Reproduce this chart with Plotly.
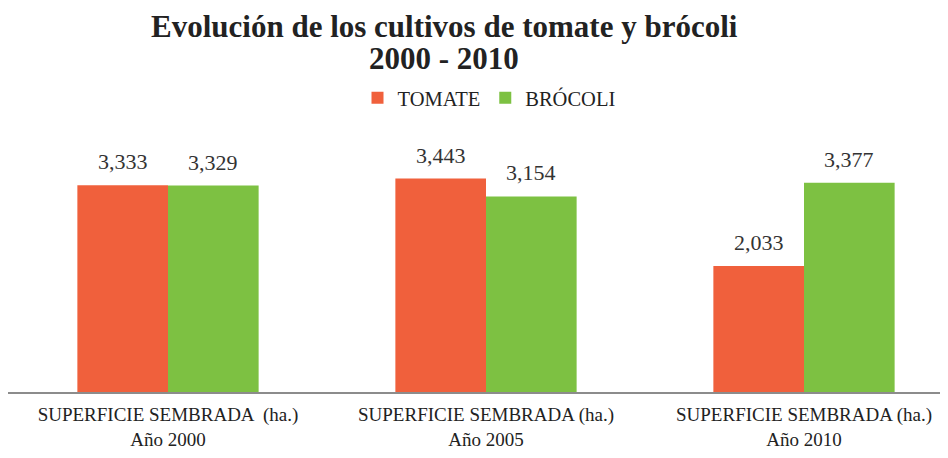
import plotly.graph_objects as go

categories = ["SUPERFICIE SEMBRADA  (ha.)<br>Año 2000",
              "SUPERFICIE SEMBRADA (ha.)<br>Año 2005",
              "SUPERFICIE SEMBRADA (ha.)<br>Año 2010"]
tomate = [3333, 3443, 2033]
brocoli = [3329, 3154, 3377]
x_pos = [0, 1, 2]
title_lines = ["Evolución de los cultivos de tomate y brócoli", "2000 - 2010"]

font_fam = "Liberation Serif, DejaVu Serif, serif"
bargap = 0.43
half = (1 - bargap) / 4  # offset of each bar centre from the group centre

# page has an 8px body margin: figure drawn at (8, 8) in the window
W, H, OFF = 940, 450, 8
plot_top, plot_bottom = 144 - OFF, 392 - OFF
plot_h = plot_bottom - plot_top


def py(screen_y):
    return (plot_bottom - (screen_y - OFF)) / plot_h


def px(screen_x):
    return (screen_x - OFF) / W


fig = go.Figure()
fig.add_trace(go.Bar(x=x_pos, y=tomate, name="TOMATE", marker_color="#F0603C",
                     marker_line_width=0))
fig.add_trace(go.Bar(x=x_pos, y=brocoli, name="BRÓCOLI", marker_color="#7DC142",
                     marker_line_width=0))

for vals, sgn in [(tomate, -1), (brocoli, 1)]:
    for xv, v in zip(x_pos, vals):
        fig.add_annotation(x=xv + sgn * half, y=v, text=f"{v:,}", showarrow=False,
                           xref="x", yref="y", yanchor="bottom", yshift=9,
                           font=dict(size=22, color="#333333", family=font_fam))

# first title line: box top flush with figure top
fig.add_annotation(text=f"<b>{title_lines[0]}</b>", x=px(444), xref="paper", xanchor="center",
                   y=py(OFF), yref="paper", yanchor="top", showarrow=False, borderpad=0,
                   font=dict(family=font_fam, size=31, color="#222222"))
fig.add_annotation(text=f"<b>{title_lines[1]}</b>", x=px(444), xref="paper", xanchor="center",
                   y=py(58), yref="paper", yanchor="middle", showarrow=False,
                   font=dict(family=font_fam, size=31, color="#222222"))

fig.update_layout(
    width=W, height=H,
    margin=dict(l=0, r=0, t=plot_top, b=H - plot_bottom),
    paper_bgcolor="white", plot_bgcolor="white",
    barmode="group", bargap=bargap, bargroupgap=0,
    legend=dict(orientation="h", x=px(489), xanchor="center",
                y=py(98), yref="paper", yanchor="middle",
                font=dict(family=font_fam, size=20.5, color="#222222"),
                traceorder="normal", itemwidth=30),
    font=dict(family=font_fam, color="#222222"),
    showlegend=True,
)
fig.update_xaxes(range=[(OFF - 168) / 318, (948 - 168) / 318], tickvals=x_pos, ticktext=categories,
                 showline=True, linecolor="#8c8c8c", linewidth=2, ticks="",
                 tickfont=dict(size=19, color="#222222", family=font_fam),
                 showgrid=False, zeroline=False, automargin=False, ticklabelstandoff=4)
fig.update_yaxes(range=[0, 4000], visible=False, showgrid=False, zeroline=False,
                 automargin=False)

fig.write_html("out.html")
